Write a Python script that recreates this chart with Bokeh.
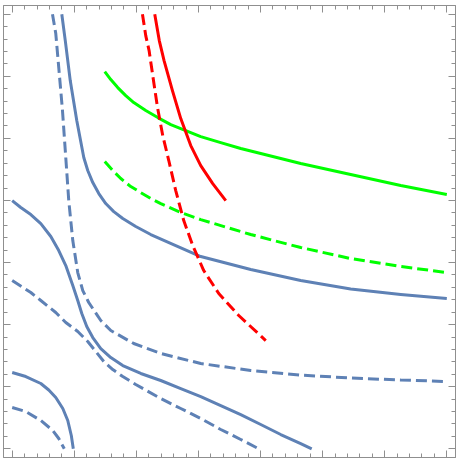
from bokeh.plotting import figure
from bokeh.models import Range1d, LinearAxis, SingleIntervalTicker, CustomJSTickFormatter
from bokeh.embed import file_html
from bokeh.resources import INLINE

# ---- data ----
blue_solid_a_x = [0.799, 0.855, 0.935, 1.040, 1.153, 1.217, 1.298, 1.395, 1.507, 1.636, 1.781, 1.990, 2.232, 2.634, 3.037, 3.842, 4.647, 5.452, 6.258, 7.0]
blue_solid_a_y = [7.0, 6.575, 5.931, 5.287, 4.691, 4.482, 4.288, 4.111, 3.950, 3.821, 3.709, 3.580, 3.451, 3.274, 3.097, 2.887, 2.710, 2.573, 2.485, 2.420]

blue_dash_a_x = [0.649, 0.702, 0.750, 0.810, 0.863, 0.911, 0.976, 1.056, 1.137, 1.233, 1.427, 1.588, 1.958, 2.393, 3.037, 3.842, 4.647, 5.452, 6.258, 7.0]
blue_dash_a_y = [7.0, 6.688, 6.140, 5.448, 4.691, 3.998, 3.354, 2.839, 2.549, 2.356, 2.066, 1.905, 1.696, 1.535, 1.374, 1.261, 1.188, 1.140, 1.108, 1.084]

blue_solid_b_x = [0.0, 0.138, 0.300, 0.461, 0.622, 0.750, 0.863, 0.976, 1.056, 1.121, 1.201, 1.298, 1.427, 1.588, 1.781, 2.071, 2.393, 2.715, 3.037, 3.359, 3.681, 4.003, 4.325, 4.647, 4.824]
blue_solid_b_y = [3.998, 3.886, 3.773, 3.628, 3.419, 3.193, 2.952, 2.630, 2.388, 2.179, 1.969, 1.792, 1.615, 1.470, 1.341, 1.213, 1.100, 0.971, 0.842, 0.697, 0.552, 0.391, 0.230, 0.085, 0.0]

blue_dash_b_x = [0.0, 0.300, 0.461, 0.702, 0.863, 1.056, 1.217, 1.346, 1.475, 1.620, 1.781, 1.990, 2.393, 2.715, 3.037, 3.359, 3.681, 3.971]
blue_dash_b_y = [2.710, 2.517, 2.388, 2.195, 2.034, 1.889, 1.728, 1.567, 1.406, 1.277, 1.164, 1.035, 0.810, 0.649, 0.488, 0.311, 0.150, 0.0]

blue_solid_c_x = [0.0, 0.219, 0.461, 0.589, 0.702, 0.815, 0.895, 0.952, 0.984]
blue_solid_c_y = [1.229, 1.164, 1.052, 0.947, 0.826, 0.649, 0.456, 0.214, 0.0]

blue_dash_c_x = [0.0, 0.219, 0.461, 0.654, 0.750, 0.839]
blue_dash_c_y = [0.665, 0.601, 0.456, 0.295, 0.166, 0.0]

green_solid_x = [1.491, 1.588, 1.700, 1.829, 1.958, 2.151, 2.345, 2.554, 2.795, 3.037, 3.359, 3.681, 4.003, 4.647, 5.452, 6.258, 7.0]
green_solid_y = [6.076, 5.947, 5.818, 5.689, 5.576, 5.448, 5.335, 5.222, 5.126, 5.029, 4.932, 4.836, 4.755, 4.594, 4.417, 4.240, 4.095]

green_dash_x = [1.491, 1.620, 1.749, 1.910, 2.071, 2.232, 2.393, 2.715, 3.037, 3.842, 4.647, 5.452, 6.258, 7.0]
green_dash_y = [4.626, 4.482, 4.353, 4.224, 4.127, 4.031, 3.950, 3.805, 3.692, 3.451, 3.242, 3.064, 2.936, 2.839]

red_solid_x = [2.296, 2.369, 2.446, 2.581, 2.715, 2.876, 3.037, 3.230, 3.440]
red_solid_y = [7.0, 6.575, 6.253, 5.770, 5.319, 4.884, 4.562, 4.272, 3.998]

red_dash_x = [2.098, 2.151, 2.205, 2.264, 2.340, 2.425, 2.522, 2.634, 2.763, 2.908, 3.085, 3.327, 3.649, 4.084]
red_dash_y = [7.0, 6.655, 6.414, 6.011, 5.501, 5.045, 4.643, 4.159, 3.676, 3.274, 2.871, 2.501, 2.147, 1.744]

BLUE = "#5E81B5"
RED = "#FF0000"
GREEN = "#00FF00"
FRAME = "#8f8f8f"
DASH = "11 5"
LW = 3

p = figure(width=456, height=458,
           x_range=Range1d(-0.14, 7.14), y_range=Range1d(-0.14, 7.14),
           output_backend="svg", toolbar_location=None,
           x_axis_location=None, y_axis_location=None,
           min_border_left=3, min_border_top=5, min_border_right=1, min_border_bottom=1)
p.grid.visible = False
p.outline_line_color = FRAME
p.outline_line_width = 1
p.background_fill_color = "white"
p.border_fill_color = "white"


def mk_axis():
    ax = LinearAxis(ticker=SingleIntervalTicker(interval=1, num_minor_ticks=5),
                    formatter=CustomJSTickFormatter(code="return ''"))
    ax.major_tick_in = 7
    ax.major_tick_out = 0
    ax.minor_tick_in = 4
    ax.minor_tick_out = 0
    ax.major_label_standoff = 0
    ax.axis_line_color = FRAME
    ax.major_tick_line_color = FRAME
    ax.minor_tick_line_color = FRAME
    return ax


for side in ["left", "right", "above", "below"]:
    p.add_layout(mk_axis(), side)

p.line(blue_solid_a_x, blue_solid_a_y, line_color=BLUE, line_width=LW, line_join="round")
p.line(blue_dash_a_x, blue_dash_a_y, line_color=BLUE, line_width=LW, line_dash=DASH)
p.line(blue_solid_b_x, blue_solid_b_y, line_color=BLUE, line_width=LW, line_join="round")
p.line(blue_dash_b_x, blue_dash_b_y, line_color=BLUE, line_width=LW, line_dash=DASH)
p.line(blue_solid_c_x, blue_solid_c_y, line_color=BLUE, line_width=LW, line_join="round")
p.line(blue_dash_c_x, blue_dash_c_y, line_color=BLUE, line_width=LW, line_dash=DASH)
p.line(green_solid_x, green_solid_y, line_color=GREEN, line_width=LW, line_join="round")
p.line(green_dash_x, green_dash_y, line_color=GREEN, line_width=LW, line_dash=DASH)
p.line(red_solid_x, red_solid_y, line_color=RED, line_width=LW, line_join="round")
p.line(red_dash_x, red_dash_y, line_color=RED, line_width=LW, line_dash=DASH)

open("out.html", "w").write(file_html(p, INLINE))
